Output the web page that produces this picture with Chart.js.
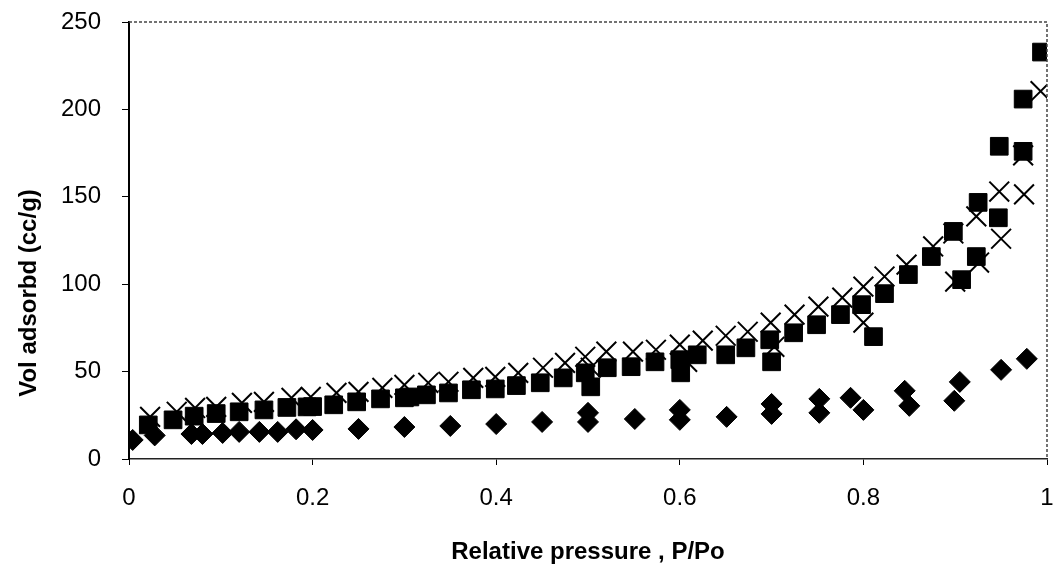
<!doctype html>
<html lang="en">
<head>
    <meta charset="UTF-8" />
    <title>Isotherm</title>
    <script src="https://cdn.jsdelivr.net/npm/chart.js"></script>
    <style>
        html, body { margin: 0; padding: 0; background: #fff; }
        .container { width: 1063px; height: 573px; }
    </style>
</head>
<body>
    <div class="container">
        <canvas id="myChart"></canvas>
    </div>
    <script>
        // diamonds
        const diamondX = [0.004, 0.028, 0.068, 0.080, 0.102, 0.120, 0.142, 0.162, 0.182, 0.200,
            0.25, 0.30, 0.35, 0.40, 0.45, 0.50, 0.50, 0.551, 0.60, 0.60, 0.651, 0.70, 0.70,
            0.752, 0.752, 0.786, 0.80, 0.845, 0.85, 0.899, 0.905, 0.95, 0.978];
        const diamondY = [10.9, 13.5, 14.3, 14.3, 14.9, 15.5, 15.5, 15.5, 17.0, 16.6,
            17.2, 18.3, 18.9, 20, 21.2, 26.4, 21.2, 22.9, 28.1, 22.4, 24.1, 31.5, 25.8,
            34.4, 26.4, 35, 28.1, 39, 30.4, 33.3, 44.1, 51, 57.3];

        // squares
        const squareX = [0.021, 0.048, 0.071, 0.095, 0.12, 0.147, 0.172, 0.194, 0.20, 0.223,
            0.248, 0.274, 0.30, 0.306, 0.324, 0.348, 0.373, 0.399, 0.422, 0.448, 0.473, 0.497,
            0.503, 0.521, 0.547, 0.573, 0.60, 0.601, 0.619, 0.650, 0.672, 0.698, 0.70, 0.724,
            0.749, 0.775, 0.798, 0.811, 0.823, 0.849, 0.874, 0.898, 0.907, 0.923, 0.925, 0.947,
            0.948, 0.974, 0.974, 0.994];
        const squareY = [19.5, 22.4, 24.5, 26, 27, 28.1, 29.5, 29.8, 30, 31,
            32.7, 34.4, 35, 35.5, 36.7, 37.8, 39.6, 40.1, 42, 43.6, 46.4, 49.3,
            41.3, 52.2, 52.8, 55.6, 56.8, 49.3, 59.6, 59.6, 63.6, 68.2, 55.6, 72.2,
            76.8, 82.6, 88.3, 70, 94.6, 105.5, 115.8, 130.2, 102.6, 115.8, 146.8, 138,
            178.9, 176, 205.9, 232.8];

        // crosses
        const crossX = [0.023, 0.052, 0.072, 0.095, 0.123, 0.147, 0.177, 0.198, 0.226, 0.25,
            0.276, 0.30, 0.326, 0.348, 0.375, 0.399, 0.424, 0.451, 0.475, 0.497, 0.503, 0.52,
            0.549, 0.574, 0.60, 0.608, 0.625, 0.65, 0.674, 0.699, 0.703, 0.725, 0.751, 0.777,
            0.80, 0.80, 0.823, 0.847, 0.876, 0.898, 0.90, 0.923, 0.926, 0.948, 0.95, 0.974,
            0.975, 0.993];
        const crossY = [24.1, 27, 29.2, 29.8, 32.1, 32.7, 35, 35.5, 37.8, 38.4,
            40.7, 42.4, 43.6, 44.2, 46.4, 47, 49.3, 52.2, 55, 58.5, 52.2, 61.4,
            61.4, 62.5, 65.4, 55.6, 67.7, 70.5, 72.8, 78, 64.2, 82.6, 87.2, 92.3,
            98.6, 78, 104.4, 111.2, 121.6, 129, 101.5, 138.8, 112.4, 153, 126, 173.7,
            151.4, 210.4];

        const xTicks = [0, 0.2, 0.4, 0.6, 0.8, 1];
        const yTicks = [0, 50, 100, 150, 200, 250];

        function pts(xs, ys) {
            return xs.map((x, i) => ({ x: x, y: ys[i] }));
        }

        // dotted top/right frame + y title
        const framePlugin = {
            id: 'frame',
            afterDraw(chart) {
                const c = chart.ctx;
                const a = chart.chartArea;
                c.save();
                c.strokeStyle = '#444';
                c.lineWidth = 1.5;
                c.setLineDash([3, 2]);
                c.beginPath();
                c.moveTo(a.left, a.top);
                c.lineTo(a.right, a.top);
                c.lineTo(a.right, a.bottom);
                c.stroke();
                c.setLineDash([]);
                c.translate(29, 293);
                c.rotate(-Math.PI / 2);
                c.fillStyle = '#000';
                c.font = 'bold 24px "Liberation Sans", Arial, sans-serif';
                c.textAlign = 'center';
                c.textBaseline = 'middle';
                c.fillText('Vol adsorbd (cc/g)', 0, 0);
                c.restore();
            }
        };

        const ctx = document.getElementById('myChart');
        Chart.defaults.font.family = '"Liberation Sans", Arial, sans-serif';
        Chart.defaults.color = '#000';

        new Chart(ctx, {
            type: 'scatter',
            data: {
                datasets: [{
                    label: 'diamond',
                    data: pts(diamondX, diamondY),
                    pointStyle: 'rectRot',
                    pointRadius: 10.5,
                    backgroundColor: '#000',
                    borderColor: '#000',
                    borderWidth: 1
                }, {
                    label: 'square',
                    data: pts(squareX, squareY),
                    pointStyle: 'rect',
                    pointRadius: 12.5,
                    backgroundColor: '#000',
                    borderColor: '#000',
                    borderWidth: 1
                }, {
                    label: 'cross',
                    data: pts(crossX, crossY),
                    pointStyle: 'crossRot',
                    pointRadius: 14,
                    backgroundColor: '#000',
                    borderColor: '#000',
                    borderWidth: 2
                }]
            },
            options: {
                responsive: true,
                maintainAspectRatio: false,
                animation: false,
                layout: { padding: { top: 22, right: 11, left: 0, bottom: 0 } },
                plugins: {
                    legend: { display: false },
                    tooltip: { enabled: false }
                },
                scales: {
                    x: {
                        type: 'linear',
                        min: 0,
                        max: 1,
                        afterBuildTicks: s => { s.ticks = xTicks.map(v => ({ value: v })); },
                        afterFit: s => { s.height = 114; s.paddingLeft = 0; s.paddingRight = 0; },
                        ticks: {
                            font: { size: 24 },
                            padding: 19,
                            callback: v => String(v)
                        },
                        grid: { display: true, drawOnChartArea: false, drawTicks: true, tickLength: 6, color: '#000' },
                        border: { display: true, color: '#222', width: 1.5 },
                        title: {
                            display: true,
                            text: 'Relative pressure , P/Po',
                            font: { size: 24, weight: 'bold' },
                            padding: { top: 6, bottom: 6 }
                        }
                    },
                    y: {
                        type: 'linear',
                        min: 0,
                        max: 250,
                        afterBuildTicks: s => { s.ticks = yTicks.map(v => ({ value: v })); },
                        afterFit: s => { s.width = 129; s.paddingTop = 0; s.paddingBottom = 0; },
                        ticks: {
                            font: { size: 24 },
                            padding: 21
                        },
                        grid: { display: true, drawOnChartArea: false, drawTicks: true, tickLength: 7, color: '#000' },
                        border: { display: true, color: '#000', width: 2 }
                    }
                }
            },
            plugins: [framePlugin]
        });
    </script>
</body>
</html>
